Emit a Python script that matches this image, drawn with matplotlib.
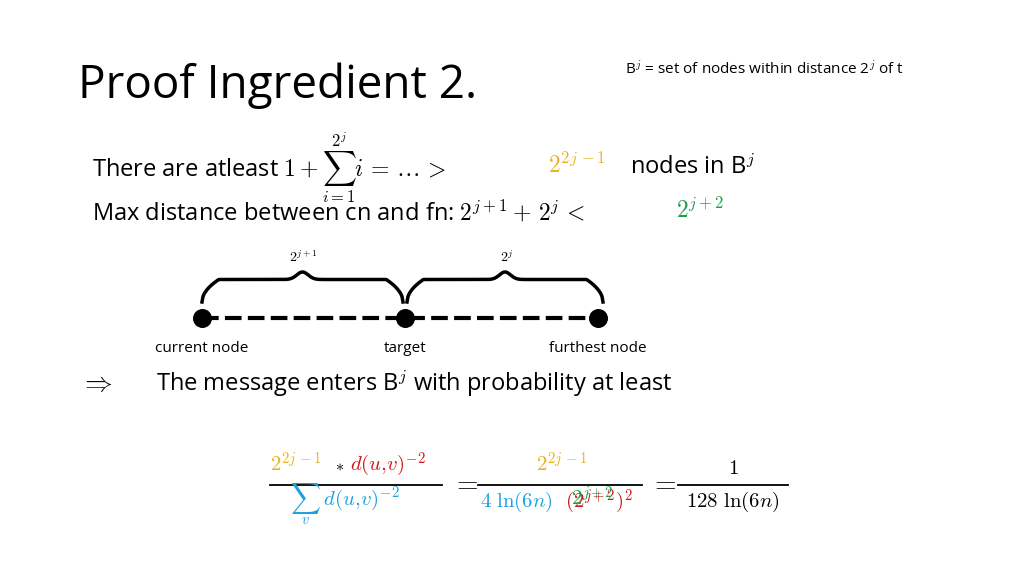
import matplotlib
matplotlib.use("Agg")
import matplotlib.pyplot as plt
import numpy as np

plt.rcParams['font.family'] = ['Open Sans', 'DejaVu Sans']
plt.rcParams['mathtext.fontset'] = 'cm'

node_x = [202, 405, 598]
node_labels = ["current node", "target", "furthest node"]
brace_labels = [r"$2^{j+1}$", r"$2^{j}$"]

YEL = '#E8B320'; GRN = '#1E9E4A'; RED = '#D0161A'; BLU = '#1BA1E2'

fig = plt.figure(figsize=(10.24, 5.75), dpi=100)
ax = fig.add_axes([0, 0, 1, 1])
ax.set_xlim(0, 1024); ax.set_ylim(575, 0); ax.axis('off')

def T(x, y, s, size=17, color='black', ha='left'):
    ax.text(x, y, s, fontsize=size, color=color, ha=ha, va='center')

T(78, 86, "Proof Ingredient 2.", size=33)
T(625, 70, r"B$^j$ = set of nodes within distance 2$^j$ of t", size=11)

T(92, 168, r"There are atleast $1+\sum_{i=1}^{2^j} i\,=\,\ldots\,>$", size=17)
T(548, 166, r"$2^{2j\,-1}$", size=17, color=YEL)
T(630, 168, r"nodes in B$^j$", size=17)

T(92, 213, r"Max distance between cn and fn: $2^{j+1}+\,2^j\,<$", size=17)
T(676, 211, r"$2^{j+2}$", size=17, color=GRN)

# braces
def brace(x1, x2, ytop, ybot):
    t = np.linspace(0, 1, 200)
    xs = x1 + (x2 - x1) * t
    d = np.minimum(t, 1 - t) * 2
    ys = ybot - (ybot - ytop) * (np.clip(d * 6, 0, 1) ** 0.5) * 0.75 \
         - (ybot - ytop) * 0.25 * np.exp(-((t - 0.5) / 0.04) ** 2)
    ax.plot(xs, ys, color='black', lw=2.5)

brace(node_x[0], node_x[1] - 2, 272, 302)
brace(node_x[1] + 2, node_x[2] + 5, 272, 302)
T((node_x[0] + node_x[1]) / 2, 258, brace_labels[0], size=10, ha='center')
T((node_x[1] + node_x[2]) / 2 + 5, 258, brace_labels[1], size=10, ha='center')

ax.plot(node_x, [318] * 3, color='black', lw=3, ls=(0, (4, 1.5)))
ax.scatter(node_x, [318] * 3, s=160, color='black', zorder=3)
for x, lab, dx in zip(node_x, node_labels, [0, 0, 0]):
    T(x + dx, 348, lab, size=11, ha='center')

T(80, 384, r"$\Rightarrow$", size=20)
T(156, 384, r"The message enters B$^j$ with probability at least", size=17)

# equation
T(270, 465, r"$2^{2j\,-1}$", size=15, color=YEL)
T(335, 467, r"$*$", size=12)
T(350, 465, r"$d(u{,}v)^{-2}$", size=15, color=RED)
T(290, 504, r"$\sum_v\ d(u{,}v)^{-2}$", size=15, color=BLU)
ax.plot([270, 442], [485, 485], color='black', lw=1.3)
T(452, 484, r"$=$", size=20)
T(562, 465, r"$2^{2j\,-1}$", size=15, color=YEL, ha='center')
T(480, 502, r"$4\ \mathrm{ln}(6n)$", size=15, color=BLU)
T(565, 502, r"$(2^{j+2})^2$", size=15, color=RED)
T(571, 499, r"$2^{j+2}$", size=15, color=GRN)
ax.plot([478, 642], [485, 485], color='black', lw=1.3)
T(650, 484, r"$=$", size=20)
T(733, 468, r"$1$", size=15, ha='center')
T(733, 502, r"$128\ \mathrm{ln}(6n)$", size=15, ha='center')
ax.plot([678, 788], [485, 485], color='black', lw=1.3)

fig.savefig("out.png", dpi=100)
